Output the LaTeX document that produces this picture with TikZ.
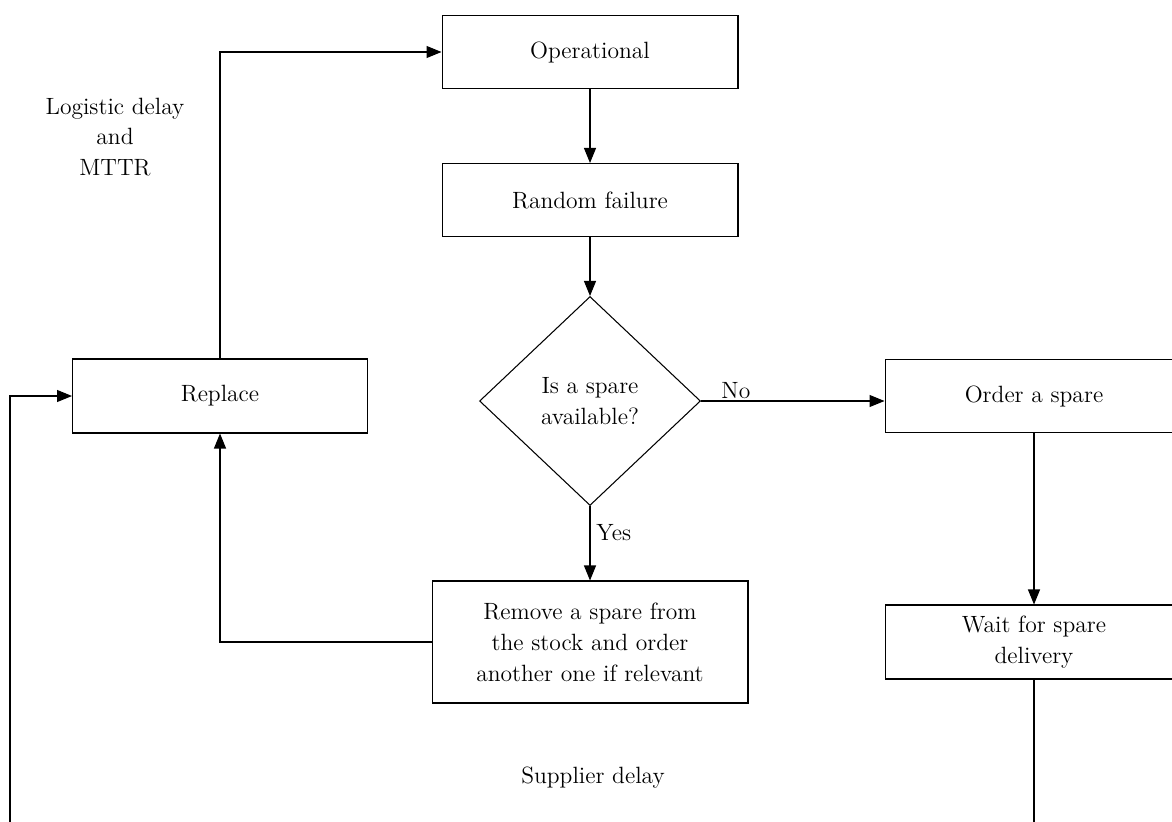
\documentclass[tikz,border=0pt]{standalone}
\usetikzlibrary{shapes.geometric,arrows.meta}
\tikzset{
  stepbox/.style={draw, line width=0.6pt, minimum width=5.92cm, minimum height=1.46cm, align=center, inner sep=2pt},
  decide/.style={draw, diamond, line width=0.6pt, minimum width=4.42cm, minimum height=4.18cm, align=center, inner sep=0pt},
  arr/.style={line width=0.6pt, -{Triangle[length=0.3cm,width=0.24cm]}},
  txt/.style={align=center}
}
\begin{document}
\begin{tikzpicture}[x=0.02cm, y=-0.02cm, font=\fontsize{13.4}{17.6}\selectfont]
    \useasboundingbox (0,0) rectangle (1172,821);
    % boxes
    \node[stepbox] (op) at (590,52) {Operational};
    \node[stepbox] (fail) at (590,200) {Random failure};
    \node[decide] (spare) at (590,401) {Is a spare\\available?};
    \node[stepbox, minimum width=5.96cm] (order) at (1034,396) {Order a spare};
    \node[stepbox, minimum width=5.96cm, minimum height=1.48cm] (wait) at (1034,642) {Wait for spare\\delivery};
    \node[stepbox, minimum width=5.9cm, minimum height=1.48cm] (replace) at (220,396) {Replace};
    \node[stepbox, minimum width=6.32cm, minimum height=2.44cm] (remove) at (590,642) {Remove a spare from\\the stock and order\\another one if relevant};
    % labels
    \node[txt] (logistic) at (115,137) {Logistic delay\\and\\MTTR};
    \node[txt] (supplier) at (593,778) {Supplier delay};
    \coordinate (corner) at (10,840);
    % connectors
    \draw[arr] (replace.north) |- (op.west);
    \draw[arr] (op) -- (fail);
    \draw[arr] (fail) -- (spare);
    \draw[arr] (spare.east) -- node[pos=0.19, above, inner sep=1pt] {No} (spare.east -| order.west);
    \draw[arr] (spare.south) -- node[right, yshift=6pt] {Yes} (remove.north);
    \draw[arr] (remove.west) -| (replace.south);
    \draw[arr] (order) -- (wait);
    \draw[arr] (wait.south) |- (corner) |- (replace.west);
  \end{tikzpicture}
\end{document}
